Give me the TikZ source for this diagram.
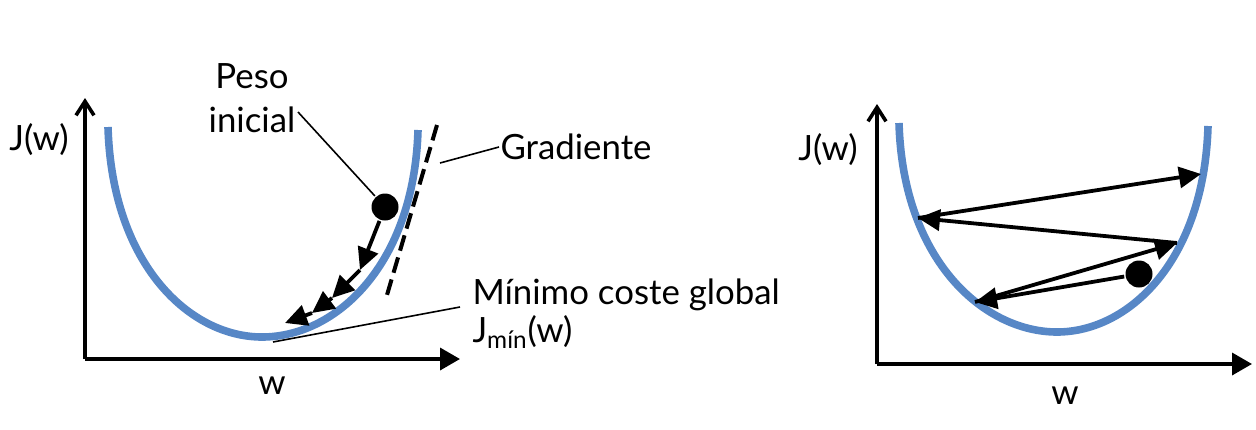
\documentclass[tikz,border=0pt]{standalone}
\usepackage{fontspec}
\setmainfont{Lato}
\usetikzlibrary{arrows.meta, positioning}
\definecolor{cblue}{HTML}{5787C6}
\tikzset{
  every picture/.style={line width=1.5pt},
  curve/.style={draw=cblue, line width=3.8pt},
  yaxis/.style={-{Straight Barb[length=7pt, width=9pt]}, line width=1.8pt},
  xaxis/.style={-{Triangle[length=10pt, width=11pt]}, line width=1.8pt},
  stepar/.style={-{Triangle[length=11pt, width=10.5pt]}, line width=1.9pt},
  ball/.style={circle, fill=black, minimum size=13.5pt, inner sep=0pt},
  lbl/.style={font=\fontsize{17.4}{22}\selectfont, inner sep=0pt},
  lead/.style={line width=0.8pt},
}

\begin{document}
\begin{tikzpicture}[x=0.5pt, y=-0.5pt]
  \useasboundingbox (0,0) rectangle (1256,429);
  % left panel: gradient descent with a small step
  \coordinate (o1) at (85,359);
  \coordinate (ytop1) at (85,98);
  \coordinate (xend1) at (460,359);
  \draw[yaxis] (o1) -- (ytop1);
  \draw[xaxis] (o1) -- (xend1);
  \node[lbl] (jw1) at (39,140) {J(w)};
  \node[lbl] (w1) at (272,386) {w};
  \draw[curve] (108,127) .. controls (112,265) and (190,337) .. (262,337)
                         .. controls (336,337) and (414,265) .. (418,130);
  % gradient tangent
  \coordinate (tg1) at (437,125);
  \coordinate (tg2) at (387,295);
  \draw[dashed, dash pattern=on 8pt off 3.5pt, line width=2pt] (tg1) -- (tg2);
  \node[lbl, anchor=west] (grad) at (499,147) {Gradiente};
  \coordinate (gr1) at (440,163);
  \draw[lead] (gr1) -- (grad.west);
  % initial weight and steps
  \node[ball] (ini) at (385,207) {};
  \coordinate (s1) at (360,270);
  \coordinate (s2) at (332,298);
  \coordinate (s3) at (312,313);
  \coordinate (s4) at (285,323);
  \draw[stepar] (ini) -- (s1);
  \draw[stepar] (s1) -- (s2);
  \draw[stepar] (s2) -- (s3);
  \draw[stepar] (s3) -- (s4);
  \node[lbl, align=center] (peso) at (252,98) {Peso\\inicial};
  \coordinate (pe1) at (298,112);
  \draw[lead] (pe1) -- (ini);
  % global minimum
  \node[lbl, anchor=west] (minlbl) at (471,295) {Mínimo coste global};
  \node[lbl, anchor=west] (jmin) at (471,332) {J\textsubscript{mín}(w)};
  \coordinate (mn1) at (273,342);
  \coordinate (mn2) at (460,307);
  \draw[lead] (mn1) -- (mn2);

  % right panel: too large a step
  \coordinate (o2) at (877,364);
  \coordinate (ytop2) at (877,104);
  \coordinate (xend2) at (1252,364);
  \draw[yaxis] (o2) -- (ytop2);
  \draw[xaxis] (o2) -- (xend2);
  \node[lbl] (jw2) at (828,150) {J(w)};
  \node[lbl] (w2) at (1065,396) {w};
  \draw[curve] (899,123) .. controls (903,262) and (985,332) .. (1057,332)
                         .. controls (1128,332) and (1204,262) .. (1208,126);
  \node[ball] (ini2) at (1139,274) {};
  \coordinate (r1) at (975,302);
  \coordinate (r2) at (1177,243);
  \coordinate (r3) at (918,218);
  \coordinate (r4) at (1201,174);
  \draw[stepar] (ini2) -- (r1);
  \draw[stepar] (r1) -- (r2);
  \draw[stepar] (r2) -- (r3);
  \draw[stepar] (r3) -- (r4);
\end{tikzpicture}
\end{document}
